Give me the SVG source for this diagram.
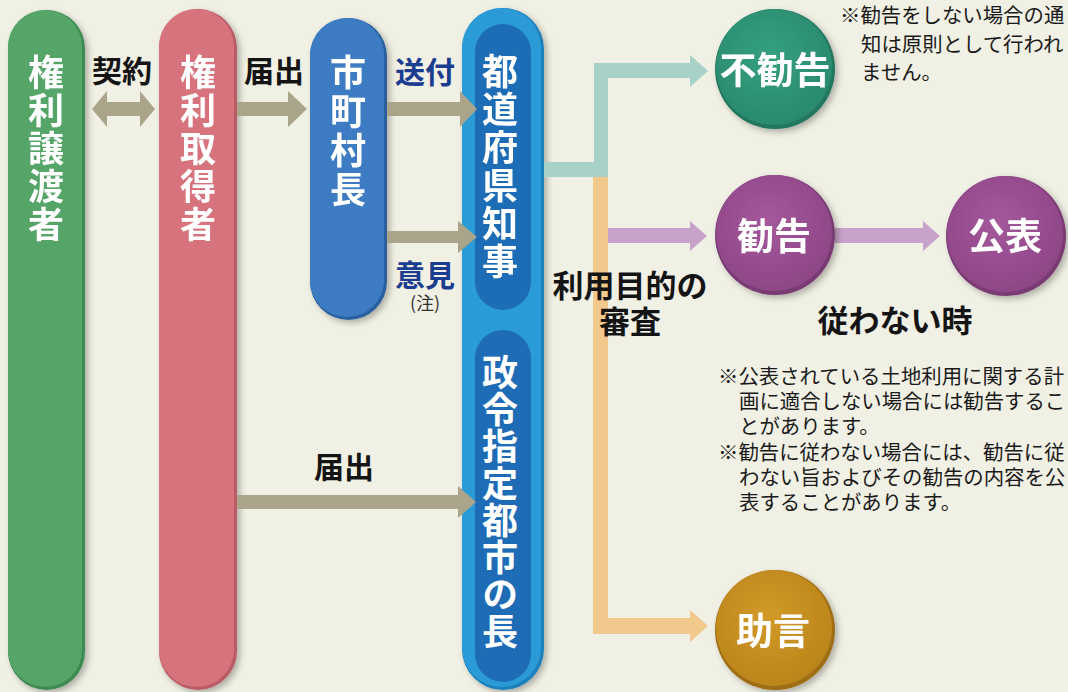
<svg xmlns="http://www.w3.org/2000/svg" width="1068" height="692" viewBox="0 0 1068 692">
<defs>
<style>
text{font-family:"Noto Sans CJK JP","Noto Sans CJK SC",sans-serif;}
.vt{font-weight:700;font-size:36px;fill:#fff;writing-mode:vertical-rl;text-orientation:upright;}
.lb{font-weight:700;font-size:30px;fill:#141414;text-anchor:middle;}
.bl{fill:#1b3d8f;}
.big{font-size:31px;}
.ct{font-weight:700;font-size:37px;fill:#fff;text-anchor:middle;}
.note{font-weight:400;font-size:20.4px;fill:#1a1a1a;}
.tan{fill:#a9a48a;}
.teal{fill:#a8d2c8;}
.org{fill:#f1c98c;}
.pur{fill:#c7a3c9;}
</style>
<filter id="sh" x="-30%" y="-10%" width="160%" height="120%">
<feDropShadow dx="3" dy="3" stdDeviation="3" flood-color="#000" flood-opacity="0.28"/>
</filter>
<radialGradient id="gT" cx="45%" cy="40%" r="60%"><stop offset="0" stop-color="#35a080"/><stop offset="1" stop-color="#2a8a6e"/></radialGradient>
<radialGradient id="gP" cx="45%" cy="40%" r="60%"><stop offset="0" stop-color="#a5589c"/><stop offset="1" stop-color="#8e4687"/></radialGradient>
<radialGradient id="gO" cx="45%" cy="40%" r="60%"><stop offset="0" stop-color="#d29a28"/><stop offset="1" stop-color="#bb851b"/></radialGradient>
</defs>
<rect x="0" y="0" width="1068" height="692" fill="#f1f0e4"/>

<g id="node-jotosha" filter="url(#sh)">
<rect x="8" y="10" width="77" height="680" rx="38.5" fill="#3d8a52"/>
<rect x="8" y="10" width="74" height="677" rx="37" fill="#55a468"/>
<text class="vt" x="46" y="54" letter-spacing="2">権利譲渡者</text>
</g>

<g id="node-shutokusha" filter="url(#sh)">
<rect x="159" y="9" width="78" height="681" rx="39" fill="#b95c66"/>
<rect x="159" y="9" width="75" height="678" rx="37.5" fill="#d6737c"/>
<text class="vt" x="198" y="54" letter-spacing="2">権利取得者</text>
</g>

<g id="node-shichoson" filter="url(#sh)">
<rect x="310" y="18" width="77" height="302" rx="38.5" fill="#2c619f"/>
<rect x="310" y="18" width="74" height="299" rx="37" fill="#3d7cc3"/>
<text class="vt" x="348" y="54" letter-spacing="3">市町村長</text>
</g>

<g id="node-chiji" filter="url(#sh)">
<rect x="462" y="8" width="82" height="682" rx="41" fill="#1f80ba"/>
<rect x="462" y="8" width="79" height="679" rx="39.5" fill="#2b9bd7"/>
<rect x="475" y="24" width="56" height="286" rx="28" fill="#1e6cb6"/>
<text class="vt" x="500" y="53" letter-spacing="2">都道府県知事</text>
</g>

<g id="node-seirei">
<rect x="475" y="330" width="56" height="352" rx="28" fill="#1e6cb6"/>
<text class="vt" x="500" y="354" letter-spacing="1">政令指定都市の長</text>
</g>

<g id="connectors">
<polygon class="tan" points="92,109 107,91 107,102 140,102 140,91 155,109 140,127 140,116 107,116 107,127"/>
<polygon class="tan" points="237,102 288,102 288,91 307,109 288,127 288,116 237,116"/>
<polygon class="tan" points="387,102 460,102 460,91 477,109 460,127 460,116 387,116"/>
<polygon class="tan" points="387,231 458,231 458,221 477,237 458,253 458,243 387,243"/>
<polygon class="tan" points="237,495 458,495 458,486 476,502 458,518 458,509 237,509"/>
<polygon class="org" points="593,177 608,177 608,618 690,618 690,610 708,626 690,642 690,634 593,634"/>
<polygon class="teal" points="544,162 594,162 594,63 690,63 690,55 708,71 690,87 690,78 608,78 608,177 544,177"/>
<polygon class="pur" points="608,228 690,228 690,221 707,236 690,251 690,243 608,243"/>
<polygon class="pur" points="835,228 923,228 923,221 940,236 923,251 923,243 835,243"/>
</g>

<g id="labels">
<text class="lb" x="122" y="82">契約</text>
<text class="lb" x="274" y="82">届出</text>
<text class="lb bl" x="425" y="83">送付</text>
<text class="lb bl" x="425" y="286">意見</text>
<text x="425" y="310" text-anchor="middle" font-size="18" fill="#333">(注)</text>
<text class="lb" x="344" y="478">届出</text>
<text class="lb big" x="630" y="297">利用目的の</text>
<text class="lb big" x="630" y="333">審査</text>
<text class="lb big" x="895" y="332">従わない時</text>
</g>

<g id="node-fukankoku" filter="url(#sh)">
<circle cx="775" cy="69" r="60" fill="#23775f"/>
<circle cx="774" cy="67" r="58" fill="url(#gT)"/>
<text class="ct" x="775" y="84">不勧告</text>
</g>

<g id="node-kankoku" filter="url(#sh)">
<circle cx="775" cy="235" r="60" fill="#7a3a74"/>
<circle cx="774" cy="233" r="58" fill="url(#gP)"/>
<text class="ct" x="774" y="250">勧告</text>
</g>

<g id="node-kohyo" filter="url(#sh)">
<circle cx="1006" cy="236" r="60" fill="#7a3a74"/>
<circle cx="1005" cy="234" r="58" fill="url(#gP)"/>
<text class="ct" x="1005" y="250">公表</text>
</g>

<g id="node-jogen" filter="url(#sh)">
<circle cx="775" cy="630" r="60" fill="#9e6d12"/>
<circle cx="774" cy="628" r="58" fill="url(#gO)"/>
<text class="ct" x="773" y="645">助言</text>
</g>

<g id="notes">
<text class="note" font-size="20.5"><tspan x="840" y="23">※勧告をしない場合の通</tspan><tspan x="861" y="52">知は原則として行われ</tspan><tspan x="861" y="80">ません。</tspan></text>
<text class="note"><tspan x="718" y="384">※公表されている土地利用に関する計</tspan><tspan x="739" y="409">画に適合しない場合には勧告するこ</tspan><tspan x="739" y="434">とがあります。</tspan><tspan x="718" y="460">※勧告に従わない場合には、勧告に従</tspan><tspan x="739" y="485">わない旨およびその勧告の内容を公</tspan><tspan x="739" y="510">表することがあります。</tspan></text>
</g>
</svg>
